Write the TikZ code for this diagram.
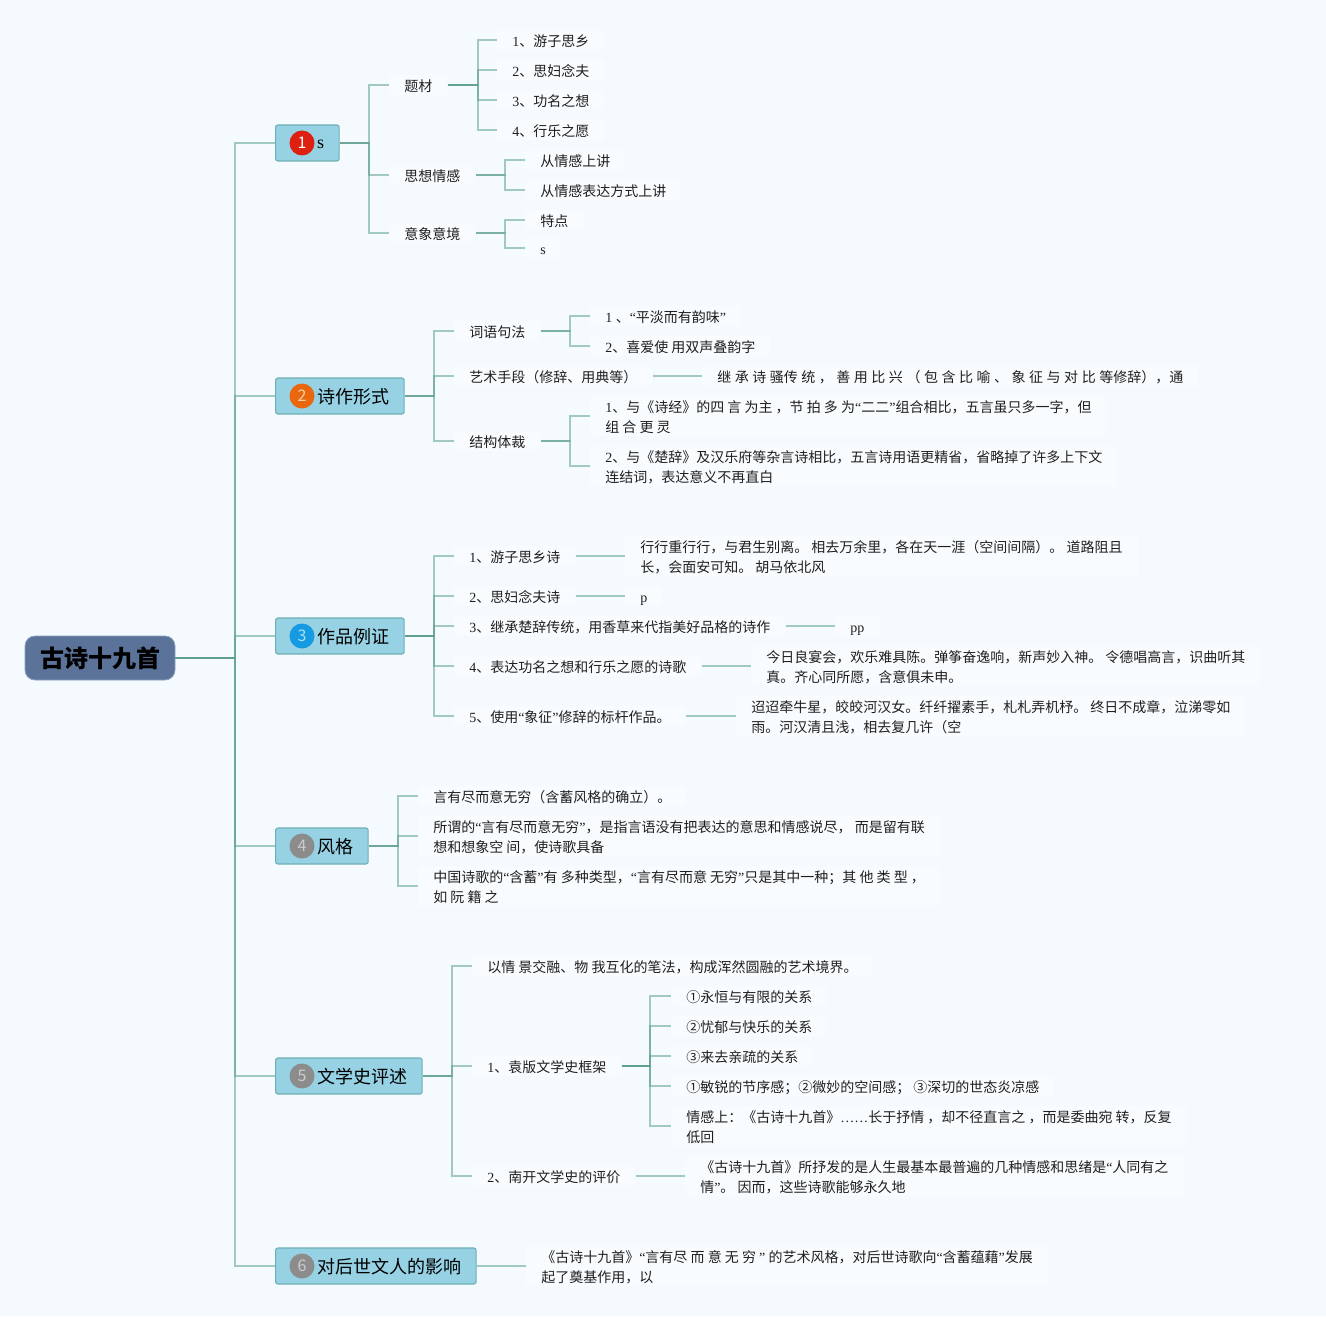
\documentclass[tikz,border=0pt]{standalone}
\usepackage{fontspec}
\setmainfont{Noto Sans CJK SC}
\newfontfamily\latfont{Liberation Serif}
\newcommand{\la}[1]{{\latfont #1}}
\definecolor{pagebg}{HTML}{F5FAFF}
\definecolor{patchbg}{HTML}{F8FCFF}
\definecolor{rootfill}{HTML}{5B7299}
\definecolor{rootline}{HTML}{8CA0BE}
\definecolor{topicfill}{HTML}{96D1E4}
\definecolor{topicline}{HTML}{6FB0B4}
\definecolor{connline}{HTML}{5F9F90}
\definecolor{markred}{HTML}{DE2010}
\definecolor{markorange}{HTML}{E8670F}
\definecolor{markblue}{HTML}{169BE3}
\definecolor{markgrey}{HTML}{8C8C8C}
\tikzset{
  rootnode/.style={draw=rootline,fill=rootfill,rounded corners=7.5pt,line width=0.6pt,
    minimum width=112.5pt,minimum height=33pt,inner sep=0pt,font=\fontsize{18}{22}\selectfont\bfseries},
  topic/.style={draw=topicline,fill=topicfill,rounded corners=1.8pt,line width=0.8pt,anchor=west,
    minimum height=27pt,inner xsep=11.25pt,inner ysep=0pt,text height=13.5pt,text depth=2.5pt,
    font=\fontsize{13.5}{16}\selectfont,execute at begin node={\hspace*{20pt}}},
  badge/.style={circle,minimum size=18.75pt,inner sep=0pt,font=\fontsize{12}{14}\selectfont},
  leaf/.style={anchor=west,fill=patchbg,inner xsep=11.25pt,inner ysep=1pt,align=left,
    text height=11.5pt,text depth=2pt,text=black!88,font=\fontsize{10.5}{15}\selectfont},
  leaftwo/.style={leaf,text height=26.5pt},
  conn/.style={draw=connline,line width=1.1pt,opacity=0.55},
}
\begin{document}
\begin{tikzpicture}[x=0.75pt,y=-0.75pt]
  \fill[pagebg] (0,0) rectangle (1326,1316);
  \useasboundingbox (0,0) rectangle (1326,1316);

  \node[rootnode] (root) at (100,658) {古诗十九首};

  % main topics
  \node[topic,text height=10.5pt] (topic-a) at (275,143)  {\la{s}};
  \node[topic] (topic-b) at (275,396)  {诗作形式};
  \node[topic] (topic-c) at (275,636)  {作品例证};
  \node[topic] (topic-d) at (275,846)  {风格};
  \node[topic] (topic-e) at (275,1076) {文学史评述};
  \node[topic] (topic-f) at (275,1266) {对后世文人的影响};

  \node[badge,fill=markred,text=white]         (mark-a) at (302,143)  {1};
  \node[badge,fill=markorange,text=orange!35]  (mark-b) at (302,396)  {2};
  \node[badge,fill=markblue,text=cyan!35]      (mark-c) at (302,636)  {3};
  \node[badge,fill=markgrey,text=black!20]     (mark-d) at (302,846)  {4};
  \node[badge,fill=markgrey,text=black!20]     (mark-e) at (302,1076) {5};
  \node[badge,fill=markgrey,text=black!20]     (mark-f) at (302,1266) {6};

  % first topic
  \node[leaf] (theme)   at (389,85)  {题材};
  \node[leaf] (feeling) at (389,175) {思想情感};
  \node[leaf] (image)   at (389,233) {意象意境};
  \node[leaf] (theme-a) at (497,40)  {\la{1}、游子思乡};
  \node[leaf] (theme-b) at (497,70)  {\la{2}、思妇念夫};
  \node[leaf] (theme-c) at (497,100) {\la{3}、功名之想};
  \node[leaf] (theme-d) at (497,130) {\la{4}、行乐之愿};
  \node[leaf] (feeling-a) at (525,160) {从情感上讲};
  \node[leaf] (feeling-b) at (525,190) {从情感表达方式上讲};
  \node[leaf] (image-a)   at (525,220) {特点};
  \node[leaf] (image-b)   at (525,248) {\la{s}};

  % second topic
  \node[leaf] (words)  at (454,331) {词语句法};
  \node[leaf] (skill)  at (454,376) {艺术手段（修辞、用典等）};
  \node[leaf] (form)   at (454,441) {结构体裁};
  \node[leaf] (words-a) at (590,316) {\la{1 }、\la{“}平淡而有韵味\la{”}};
  \node[leaf] (words-b) at (590,346) {\la{2}、喜爱使 用双声叠韵字};
  \node[leaf] (skill-a) at (702,376) {\makebox[349.5pt][s]{继 承 诗 骚传 统 ， 善 用 比 兴 （ 包 含 比 喻 、 象 征 与 对 比 等修辞），通}};
  \node[leaftwo] (form-a)  at (590,416) {\la{1}、与《诗经》的四 言 为主 ，节 拍 多 为\la{“}二二\la{”}组合相比，五言虽只多一字，但\\组 合 更 灵};
  \node[leaftwo] (form-b)  at (590,466) {\la{2}、与《楚辞》及汉乐府等杂言诗相比，五言诗用语更精省，省略掉了许多上下文\\连结词，表达意义不再直白};

  % third topic
  \node[leaf] (work-a) at (454,556) {\la{1}、游子思乡诗};
  \node[leaf] (work-b) at (454,596) {\la{2}、思妇念夫诗};
  \node[leaf] (work-c) at (454,626) {\la{3}、继承楚辞传统，用香草来代指美好品格的诗作};
  \node[leaf] (work-d) at (454,666) {\la{4}、表达功名之想和行乐之愿的诗歌};
  \node[leaf] (work-e) at (454,716) {\la{5}、使用\la{“}象征\la{”}修辞的标杆作品。};
  \node[leaftwo] (poem-a) at (625,556) {行行重行行，与君生别离。 相去万余里，各在天一涯（空间间隔）。 道路阻且\\长，会面安可知。 胡马依北风};
  \node[leaf] (poem-b) at (625,596) {\la{p}};
  \node[leaf] (poem-c) at (835,626) {\la{pp}};
  \node[leaftwo] (poem-d) at (751,666) {今日良宴会，欢乐难具陈。弹筝奋逸响，新声妙入神。 令德唱高言，识曲听其\\真。齐心同所愿，含意俱未申。};
  \node[leaftwo] (poem-e) at (736,716) {迢迢牵牛星，皎皎河汉女。纤纤擢素手，札札弄机杼。 终日不成章，泣涕零如\\雨。河汉清且浅，相去复几许（空};

  % fourth topic
  \node[leaf] (style-a) at (418,796) {言有尽而意无穷（含蓄风格的确立）。};
  \node[leaftwo] (style-b) at (418,836) {所谓的\la{“}言有尽而意无穷\la{”}，是指言语没有把表达的意思和情感说尽， 而是留有联\\想和想象空 间，使诗歌具备};
  \node[leaftwo] (style-c) at (418,886) {中国诗歌的\la{“}含蓄\la{”}有 多种类型，\la{“}言有尽而意 无穷\la{”}只是其中一种；其 他 类 型 ，\\如 阮 籍 之};

  % fifth topic
  \node[leaf] (view-a) at (472,966)  {以情 景交融、物 我互化的笔法，构成浑然圆融的艺术境界。};
  \node[leaf] (view-b) at (472,1066) {\la{1}、袁版文学史框架};
  \node[leaf] (view-c) at (472,1176) {\la{2}、南开文学史的评价};
  \node[leaf] (frame-a) at (671,996)  {①永恒与有限的关系};
  \node[leaf] (frame-b) at (671,1026) {②忧郁与快乐的关系};
  \node[leaf] (frame-c) at (671,1056) {③来去亲疏的关系};
  \node[leaf] (frame-d) at (671,1086) {①敏锐的节序感；②微妙的空间感； ③深切的世态炎凉感};
  \node[leaftwo] (frame-e) at (671,1126) {情感上：《古诗十九首》\la{……}长于抒情 ，却不径直言之 ，而是委曲宛 转，反复\\低回};
  \node[leaftwo] (nankai)  at (685,1176) {《古诗十九首》所抒发的是人生最基本最普遍的几种情感和思绪是\la{“}人同有之\\情\la{”}。 因而，这些诗歌能够永久地};

  % sixth topic
  \node[leaftwo] (effect)  at (526,1266) {《古诗十九首》\la{“}言有尽 而 意 无 穷 \la{”} 的艺术风格，对后世诗歌向\la{“}含蓄蕴藉\la{”}发展\\起了奠基作用，以};

  % bus points
  \coordinate (bus-root)    at (235,658);
  \coordinate (bus-a)       at (369,143);
  \coordinate (bus-b)       at (434,396);
  \coordinate (bus-c)       at (434,636);
  \coordinate (bus-d)       at (398,846);
  \coordinate (bus-e)       at (452,1076);
  \coordinate (bus-theme)   at (478,85);
  \coordinate (bus-feeling) at (505,175);
  \coordinate (bus-image)   at (505,233);
  \coordinate (bus-words)   at (570,331);
  \coordinate (bus-form)    at (570,441);
  \coordinate (bus-view)    at (650,1066);

  \foreach \kid in {topic-a,topic-b,topic-c,topic-d,topic-e,topic-f}
    \draw[conn] (root.east) -- (bus-root) |- (\kid.west);
  \foreach \kid in {theme,feeling,image}
    \draw[conn] (topic-a.east) -- (bus-a) |- (\kid.west);
  \foreach \kid in {words,skill,form}
    \draw[conn] (topic-b.east) -- (bus-b) |- (\kid.west);
  \foreach \kid in {work-a,work-b,work-c,work-d,work-e}
    \draw[conn] (topic-c.east) -- (bus-c) |- (\kid.west);
  \foreach \kid in {style-a,style-b,style-c}
    \draw[conn] (topic-d.east) -- (bus-d) |- (\kid.west);
  \foreach \kid in {view-a,view-b,view-c}
    \draw[conn] (topic-e.east) -- (bus-e) |- (\kid.west);
  \foreach \kid in {theme-a,theme-b,theme-c,theme-d}
    \draw[conn] (theme.east) -- (bus-theme) |- (\kid.west);
  \foreach \kid in {feeling-a,feeling-b}
    \draw[conn] (feeling.east) -- (bus-feeling) |- (\kid.west);
  \foreach \kid in {image-a,image-b}
    \draw[conn] (image.east) -- (bus-image) |- (\kid.west);
  \foreach \kid in {words-a,words-b}
    \draw[conn] (words.east) -- (bus-words) |- (\kid.west);
  \foreach \kid in {form-a,form-b}
    \draw[conn] (form.east) -- (bus-form) |- (\kid.west);
  \foreach \kid in {frame-a,frame-b,frame-c,frame-d,frame-e}
    \draw[conn] (view-b.east) -- (bus-view) |- (\kid.west);

  \draw[conn] (skill)  -- (skill-a);
  \draw[conn] (work-a) -- (poem-a);
  \draw[conn] (work-b) -- (poem-b);
  \draw[conn] (work-c) -- (poem-c);
  \draw[conn] (work-d) -- (poem-d);
  \draw[conn] (work-e) -- (poem-e);
  \draw[conn] (view-c) -- (nankai);
  \draw[conn] (topic-f) -- (effect);
\end{tikzpicture}
\end{document}
